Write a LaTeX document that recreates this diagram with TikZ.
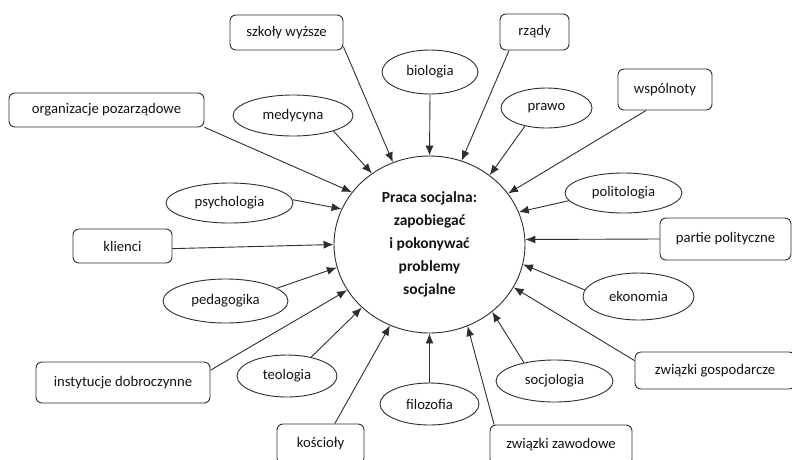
\documentclass[tikz,border=0pt]{standalone}
\usepackage{fontspec}
\setmainfont{Carlito}
\usetikzlibrary{shapes.geometric,arrows.meta}
\definecolor{ln}{HTML}{2E2E2E}
\definecolor{tx}{HTML}{141414}
\tikzset{
  lbl/.style={text=tx, font=\fontsize{14.7}{17}\selectfont, inner sep=0pt},
  box/.style={lbl, draw=ln, line width=0.9pt, rounded corners=6pt},
  oval/.style={lbl, draw=ln, line width=0.9pt, ellipse},
  arr/.style={draw=ln, line width=0.9pt, -{Latex[length=10pt,width=8pt]}},
}
\begin{document}
\begin{tikzpicture}[x=1pt,y=-1pt]
\useasboundingbox (0,0) rectangle (792,459);
% centre
\node[draw=ln, line width=0.9pt, ellipse, minimum width=191pt, minimum height=177pt, inner sep=0pt,
      align=center, text=tx, font=\fontsize{15.5}{23}\selectfont\bfseries] (c) at (429.5,244.5)
  {Praca socjalna:\\zapobiegać\\i pokonywać\\problemy\\socjalne};
% boxes
\node[box, minimum width=113pt, minimum height=35pt] (szk) at (286.5,32.5) {szkoły wyższe};
\node[box, minimum width=195pt, minimum height=34pt] (org) at (106.5,110) {organizacje pozarządowe};
\node[box, minimum width=69pt, minimum height=36pt] (rzady) at (534.5,32) {rządy};
\node[box, minimum width=94pt, minimum height=41pt] (wsp) at (665,89.5) {wspólnoty};
\node[box, minimum width=131pt, minimum height=42pt] (partie) at (725.5,239) {partie polityczne};
\node[box, minimum width=160pt, minimum height=37pt] (zgosp) at (715,370.5) {związki gospodarcze};
\node[box, minimum width=142pt, minimum height=40pt] (zzaw) at (561,445) {związki zawodowe};
\node[box, minimum width=87pt, minimum height=40pt] (kosc) at (320.5,444) {kościoły};
\node[box, minimum width=174pt, minimum height=41pt] (inst) at (123,382.5) {instytucje dobroczynne};
\node[box, minimum width=99pt, minimum height=34pt] (klienci) at (122.5,246) {klienci};
% ovals
\node[oval, minimum width=120pt, minimum height=41pt] (med) at (293,115.5) {medycyna};
\node[oval, minimum width=127pt, minimum height=40pt] (psych) at (229.5,203) {psychologia};
\node[oval, minimum width=96pt, minimum height=44pt] (bio) at (430,72) {biologia};
\node[oval, minimum width=91pt, minimum height=40pt] (prawo) at (546.5,108) {prawo};
\node[oval, minimum width=117pt, minimum height=40pt] (polit) at (623.5,193) {politologia};
\node[oval, minimum width=111pt, minimum height=47pt] (ekon) at (638.5,296.5) {ekonomia};
\node[oval, minimum width=117pt, minimum height=42pt] (socj) at (554.5,381) {socjologia};
\node[oval, minimum width=99pt, minimum height=42pt] (filoz) at (429.5,404) {filozofia};
\node[oval, minimum width=100pt, minimum height=42pt] (teol) at (287,376) {teologia};
\node[oval, minimum width=125pt, minimum height=44pt] (pedag) at (225.5,301) {pedagogika};
% arrows
\draw[arr] (szk.-14) -- (c.114);
\draw[arr] (org.-10) -- (c.146);
\draw[arr] (med.-21) -- (c.129.6);
\draw[arr] (psych.3) -- (c.158.5);
\draw[arr] (bio.south) -- (c.90);
\draw[arr] (rzady.216) -- (c.69.6);
\draw[arr] (prawo.220) -- (c.49.8);
\draw[arr] (wsp.228) -- (c.33.3);
\draw[arr] (polit.188) -- (c.20.2);
\draw[arr] (partie.west) -- (c.3.4);
\draw[arr] (ekon.173) -- (c.-12.9);
\draw[arr] (zgosp.173) -- (c.-27.8);
\draw[arr] (socj.149) -- (c.-47.6);
\draw[arr] (filoz.north) -- (c.-90);
\draw[arr] (zzaw.163) -- (c.-65.6);
\draw[arr] (klienci.-3.5) -- (c.180);
\draw[arr] (pedag.14) -- (c.194.3);
\draw[arr] (inst.8.8) -- (c.209.9);
\draw[arr] (teol.38) -- (c.223.3);
\draw[arr] (kosc.55) -- (c.244.4);
\end{tikzpicture}
\end{document}
